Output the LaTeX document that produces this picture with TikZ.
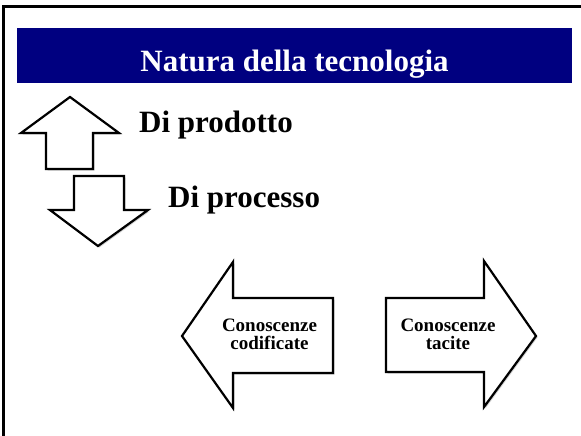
\documentclass[tikz,border=0pt]{standalone}
\usepackage{fontspec}
\setmainfont{Liberation Serif}
\usepackage{xcolor}
\usepackage{tikz}
\usetikzlibrary{calc,shadows}
\definecolor{bar}{HTML}{000080}
\definecolor{ink}{HTML}{000000}
\tikzset{
  frame/.style={draw=ink, line width=3pt},
  blockarrow/.style={draw=ink, fill=white, line width=2.2pt, line join=miter,
    drop shadow={shadow xshift=1.5pt, shadow yshift=-1.5pt, opacity=0.35, fill=gray}},
  title/.style={text=white, font=\bfseries\fontsize{31}{34}\selectfont, anchor=base, inner sep=0pt},
  big/.style={text=ink, font=\bfseries\fontsize{31}{34}\selectfont, anchor=base west, inner sep=0pt},
  small/.style={text=ink, font=\bfseries\fontsize{19}{18}\selectfont, align=center}
}

\begin{document}
\begin{tikzpicture}[x=1pt,y=-1pt]
  \useasboundingbox (0,0) rectangle (581,436);
  % slide frame
  \draw[frame] (3,440) -- (3,7) -- (585,7);
  % title bar
  \fill[bar] (17,28) rectangle (572,83);
  \node[title] (ttl) at (294.5,72) {Natura della tecnologia};
  % up and down arrows
  \draw[blockarrow] (70,97) -- (119,133) -- (93,133) -- (93,169)
    -- (46,169) -- (46,133) -- (21,133) -- cycle;
  \draw[blockarrow] (74,176) -- (124,176) -- (124,210) -- (148,210)
    -- (98,246) -- (50,210) -- (74,210) -- cycle;
  \node[big] (prod) at (139,132) {Di prodotto};
  \node[big] (proc) at (168,207) {Di processo};
  % left and right arrows
  \draw[blockarrow] (182,336) -- (233,262) -- (233,298) -- (333,298)
    -- (333,373) -- (233,373) -- (233,408) -- cycle;
  \draw[blockarrow] (386,298) -- (484,298) -- (484,261) -- (536,336)
    -- (484,407) -- (484,372) -- (386,372) -- cycle;
  \node[small] (cod) at (269.5,334) {Conoscenze\\codificate};
  \node[small] (tac) at (448,334) {Conoscenze\\tacite};
\end{tikzpicture}
\end{document}
